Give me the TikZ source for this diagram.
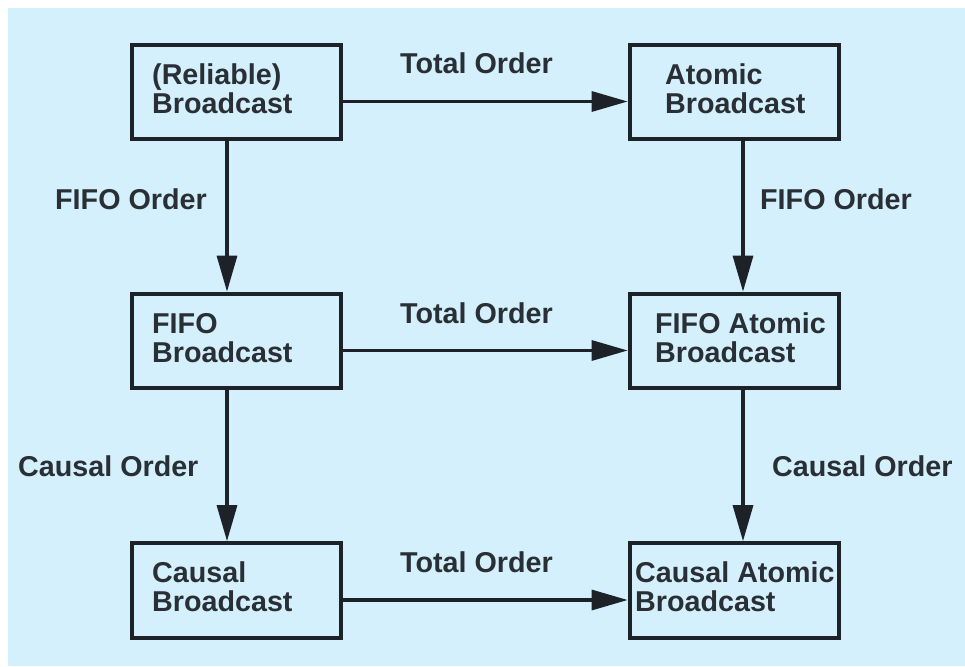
\documentclass[tikz,border=0pt]{standalone}
\usepackage{fontspec}
\setmainfont{Liberation Sans}
\usetikzlibrary{arrows.meta}
\definecolor{bgblue}{HTML}{D3F0FC}
\definecolor{ink}{HTML}{1C2227}
\definecolor{txt}{HTML}{2A2F35}
\begin{document}
\begin{tikzpicture}[x=1pt,y=-1pt,
  box/.style={draw=ink,line width=4.2pt,minimum width=209.5pt,minimum height=94.5pt,inner sep=0pt},
  txtlab/.style={font=\fontsize{28.7}{29}\selectfont\bfseries,text=txt,inner sep=0pt,anchor=base west},
  arr/.style={draw=ink,line width=3.2pt,-{Triangle[length=36pt,width=20pt]}}]
\useasboundingbox (0,0) rectangle (965,666);
\fill[white] (0,0) rectangle (965,666);
\fill[bgblue] (8,8) rectangle (965,666);
% boxes
\node[box] (rb)  at (236.5,92) {};
\node[box] (ab)  at (734.5,92) {};
\node[box] (fb)  at (236.5,341) {};
\node[box] (fab) at (734.5,341) {};
\node[box] (cb)  at (236.5,590.5) {};
\node[box] (cab) at (734.5,590.5) {};
% box texts
\node[txtlab] (rb1) at (152,85) {(Reliable)};
\node[txtlab] (rb2) at (152,113.5) {Broadcast};
\node[txtlab] (ab1) at (665,85) {Atomic};
\node[txtlab] (ab2) at (665,113.5) {Broadcast};
\node[txtlab] (fb1) at (152,333.5) {FIFO};
\node[txtlab] (fb2) at (152,362.5) {Broadcast};
\node[txtlab] (fab1) at (655,333.5) {FIFO Atomic};
\node[txtlab] (fab2) at (655,362.5) {Broadcast};
\node[txtlab] (cb1) at (152,582.5) {Causal};
\node[txtlab] (cb2) at (152,611.5) {Broadcast};
\node[txtlab] (cab1) at (635,582.5) {Causal Atomic};
\node[txtlab] (cab2) at (635,611.5) {Broadcast};
% arrows
\draw[arr] ([yshift=-9.5pt]rb.east) -- ([yshift=-9.5pt]ab.west);
\draw[arr] ([yshift=-9.5pt]fb.east) -- ([yshift=-9.5pt]fab.west);
\draw[arr] ([yshift=-9.5pt]cb.east) -- ([yshift=-9.5pt]cab.west);
\draw[arr] ([xshift=-9.5pt]rb.south) -- ([xshift=-9.5pt]fb.north);
\draw[arr] ([xshift=-9.5pt]fb.south) -- ([xshift=-9.5pt]cb.north);
\draw[arr] ([xshift=8.5pt]ab.south) -- ([xshift=8.5pt]fab.north);
\draw[arr] ([xshift=8.5pt]fab.south) -- ([xshift=8.5pt]cab.north);
% edge labels
\node[txtlab] (t1) at (400,74) {Total Order};
\node[txtlab] (t2) at (400,323.5) {Total Order};
\node[txtlab] (t3) at (400,572.5) {Total Order};
\node[txtlab] (f1) at (55,209) {FIFO Order};
\node[txtlab] (f2) at (760,209) {FIFO Order};
\node[txtlab] (c1) at (18,476) {Causal Order};
\node[txtlab] (c2) at (772,476) {Causal Order};
\end{tikzpicture}
\end{document}
